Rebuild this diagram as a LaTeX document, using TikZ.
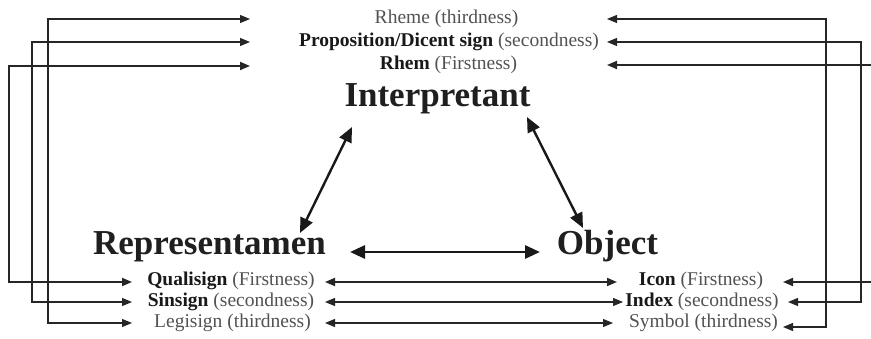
\documentclass[tikz,border=0pt]{standalone}
\usepackage{fontspec}
\setmainfont{Liberation Serif}
\usetikzlibrary{arrows.meta}
\begin{document}
\begin{tikzpicture}[x=1pt,y=-1pt,
  lbl/.style={anchor=base,inner sep=0pt,font=\fontsize{19.5}{22}\selectfont,text=black!68},
  head/.style={anchor=base,inner sep=0pt,font=\fontsize{35}{40}\selectfont\bfseries,text=black!88},
  wire/.style={line width=1.1pt,draw=black!85,{Triangle[length=10pt,width=8pt]}-{Triangle[length=10pt,width=8pt]}},
  wirebold/.style={wire,line width=1.8pt},
  bigarr/.style={line width=2.8pt,draw=black!90,{Triangle[length=15pt,width=13pt]}-{Triangle[length=15pt,width=13pt]}},
  bf/.style={}]
\clip (0,0) rectangle (871,339);
\fill[white] (0,0) rectangle (871,339);

% texts
\node[lbl] (rheme) at (446.5,24) {Rheme (thirdness)};
\node[lbl] (prop)  at (449,47) {\textcolor{black!90}{\textbf{Proposition/Dicent sign}} (secondness)};
\node[lbl] (rhem)  at (448.5,70) {\textcolor{black!90}{\textbf{Rhem}} (Firstness)};
\node[head] (interp) at (437.5,107) {Interpretant};
\node[head] (rep) at (209.5,255) {Representamen};
\node[head] (obj) at (607.5,255) {Object};
\node[lbl] (quali) at (231,286) {\textcolor{black!90}{\textbf{Qualisign}} (Firstness)};
\node[lbl] (sin)   at (231,307) {\textcolor{black!90}{\textbf{Sinsign}} (secondness)};
\node[lbl] (legi)  at (232.5,328) {Legisign (thirdness)};
\node[lbl] (icon)  at (701,286) {\textcolor{black!90}{\textbf{Icon}} (Firstness)};
\node[lbl] (index) at (702,307) {\textcolor{black!90}{\textbf{Index}} (secondness)};
\node[lbl] (sym)   at (703.5,328) {Symbol (thirdness)};

% connector end points
\coordinate (tlRheme) at (250,19);
\coordinate (tlProp)  at (250,42);
\coordinate (tlRhem)  at (250,66);
\coordinate (trRheme) at (607,19);
\coordinate (trProp)  at (607,42);
\coordinate (trRhem)  at (607,65);
\coordinate (blQuali) at (132,282);
\coordinate (blSin)   at (132,302);
\coordinate (blLegi)  at (132,323);
\coordinate (bmQuali) at (325,282);
\coordinate (bmSin)   at (325,302);
\coordinate (bmLegi)  at (325,323);
\coordinate (bmIcon)  at (617,282);
\coordinate (bmIndex) at (623,302);
\coordinate (bmSym)   at (613,323);
\coordinate (brIcon)  at (783,282);
\coordinate (brIndex) at (788,302);
\coordinate (brSym)   at (783,327);
\coordinate (cL1) at (48,323);
\coordinate (cL2) at (32,302);
\coordinate (cL3) at (9,282);
\coordinate (cR1) at (826,327);
\coordinate (cR2) at (861,302);
\coordinate (cR3) at (890,282);

% left loops
\draw[wire] (tlRheme) -| (cL1) -- (blLegi);
\draw[wire] (tlProp) -| (cL2) -- (blSin);
\draw[wirebold] (tlRhem) -| (cL3) -- (blQuali);
% right loops
\draw[wire] (trRheme) -| (cR1) -- (brSym);
\draw[wire] (trProp) -| (cR2) -- (brIndex);
\draw[wirebold] (trRhem) -| (cR3) -- (brIcon);
% middle
\draw[wirebold] (bmQuali) -- (bmIcon);
\draw[wire] (bmSin) -- (bmIndex);
\draw[wire] (bmLegi) -- (bmSym);

% triangle
\coordinate (iL) at (352,127);
\coordinate (rT) at (300,233);
\coordinate (iR) at (527,117);
\coordinate (oT) at (583,228);
\coordinate (rR) at (350,252);
\coordinate (oL) at (540,252);
\draw[bigarr,line width=2.4pt] (iL) -- (rT);
\draw[bigarr,line width=2.4pt] (iR) -- (oT);
\draw[bigarr] (rR) -- (oL);
\end{tikzpicture}
\end{document}
